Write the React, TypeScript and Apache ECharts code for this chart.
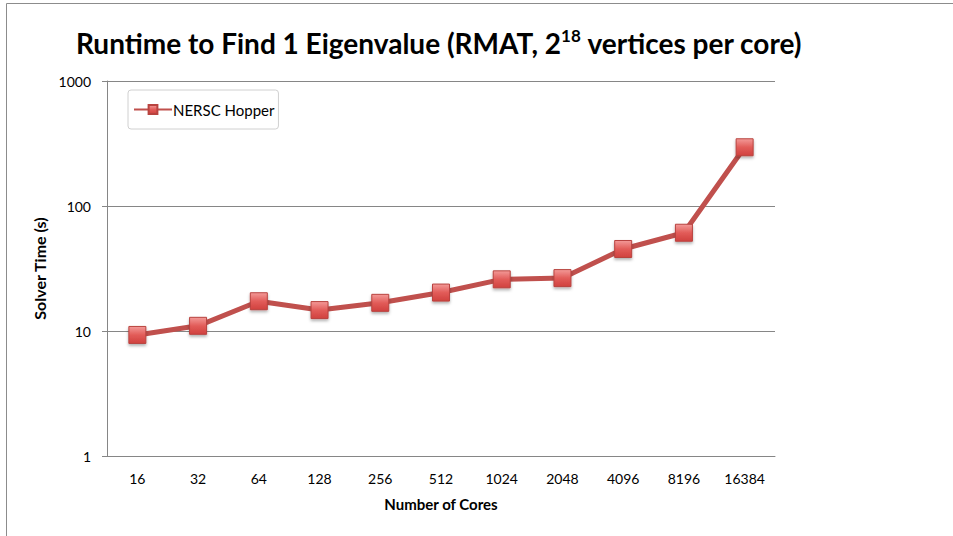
import React, { useEffect, useRef } from "react";
import * as echarts from "echarts";

const categories = ["16", "32", "64", "128", "256", "512", "1024", "2048", "4096", "8196", "16384"];
const solverTime = [9.3, 11.0, 17.3, 14.7, 16.8, 20.3, 25.9, 26.5, 45.3, 61.1, 295];
const seriesName = "NERSC Hopper";
const titleText = "Runtime to Find 1 Eigenvalue (RMAT, 2{sup|18} vertices per core)";
const xAxisName = "Number of Cores";
const yAxisName = "Solver Time (s)";

const FONT = "Lato, 'Open Sans', sans-serif";

export default function App() {
  const ref = useRef<HTMLDivElement>(null);
  useEffect(() => {
    if (!ref.current) return;
    const chart = echarts.init(ref.current, null, { renderer: "svg" });
    const markerFill = new echarts.graphic.LinearGradient(0, 0, 0, 1, [
      { offset: 0, color: "#f39a98" },
      { offset: 0.5, color: "#e25c59" },
      { offset: 1, color: "#d0413e" },
    ]);
    chart.setOption({
      animation: false,
      backgroundColor: "#ffffff",
      textStyle: { fontFamily: FONT },
      title: {
        text: titleText,
        left: 434,
        textAlign: "center",
        top: 22,
        textStyle: {
          fontFamily: FONT,
          fontSize: 28,
          fontWeight: "bold",
          color: "#000",
          rich: {
            sup: {
              fontFamily: FONT,
              fontSize: 17,
              fontWeight: "bold",
              color: "#000",
              verticalAlign: "top",
              padding: [0, 0, 15, 0],
            },
          },
        },
      },
      legend: {
        left: 128,
        top: 90,
        orient: "horizontal",
        backgroundColor: "#fff",
        borderColor: "#d0d0d0",
        borderWidth: 1,
        borderRadius: 3,
        padding: [12, 4, 12, 5],
        itemWidth: 38,
        itemHeight: 11,
        itemGap: 0,
        textStyle: { fontFamily: FONT, fontSize: 15, color: "#000", padding: [0, 0, 0, -4] },
        data: [seriesName],
      },
      grid: { left: 107, right: 953 - 775, top: 81, bottom: 536 - 456, containLabel: false },
      xAxis: {
        type: "category",
        data: categories,
        boundaryGap: true,
        name: xAxisName,
        nameLocation: "middle",
        nameGap: 40,
        nameTextStyle: { fontFamily: FONT, fontSize: 15, fontWeight: "bold", color: "#000" },
        axisLine: { show: true, lineStyle: { color: "#868686", width: 1 } },
        axisTick: { show: false },
        axisLabel: { fontFamily: FONT, fontSize: 14, color: "#000", margin: 15 },
        splitLine: { show: false },
      },
      yAxis: {
        type: "log",
        logBase: 10,
        min: 1,
        max: 1000,
        name: yAxisName,
        nameLocation: "middle",
        nameGap: 55,
        nameRotate: 90,
        nameTextStyle: { fontFamily: FONT, fontSize: 16, fontWeight: "bold", color: "#000" },
        axisLine: { show: true, lineStyle: { color: "#868686", width: 1 } },
        axisTick: { show: true, inside: false, length: 5, lineStyle: { color: "#868686" } },
        axisLabel: {
          fontFamily: FONT,
          fontSize: 14,
          color: "#000",
          margin: 16,
          formatter: (v: number) => String(v),
        },
        splitLine: { show: true, lineStyle: { color: "#868686", width: 1 } },
        minorTick: { show: false },
      },
      series: [
        {
          name: seriesName,
          type: "line",
          data: solverTime,
          symbol: "rect",
          symbolSize: 17,
          lineStyle: { color: "#c0504d", width: 5 },
          itemStyle: {
            color: markerFill,
            borderColor: "#b8433f",
            borderWidth: 1,
            shadowColor: "rgba(0,0,0,0.3)",
            shadowBlur: 3,
            shadowOffsetY: 2,
          },
          emphasis: { disabled: true },
        },
      ],
      graphic: [
        { type: "line", shape: { x1: 6.5, y1: 3.5, x2: 953, y2: 3.5 }, style: { stroke: "#8c8c8c", lineWidth: 1 }, silent: true },
        { type: "line", shape: { x1: 6.5, y1: 3.5, x2: 6.5, y2: 536 }, style: { stroke: "#8c8c8c", lineWidth: 1 }, silent: true },
      ],
    });
    return () => chart.dispose();
  }, []);
  return (
    <div
      ref={ref}
      style={{ position: "absolute", left: 0, top: 0, width: 953, height: 536 }}
    />
  );
}
